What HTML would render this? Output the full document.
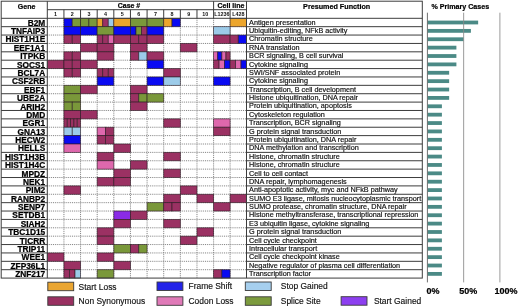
<!DOCTYPE html><html><head><meta charset="utf-8"><style>html,body{margin:0;padding:0;background:#fff;}body{width:520px;height:307px;overflow:hidden;}svg{display:block;will-change:transform;font-family:"Liberation Sans",sans-serif;}</style></head><body>
<svg width="520" height="307" viewBox="0 0 520 307">
<rect width="520" height="307" fill="#fff"/>
<line x1="47.30" y1="26.68" x2="246.50" y2="26.68" stroke="#858585" stroke-width="1" stroke-dasharray="1 0.9" fill="none"/>
<line x1="47.30" y1="35.06" x2="246.50" y2="35.06" stroke="#858585" stroke-width="1" stroke-dasharray="1 0.9" fill="none"/>
<line x1="47.30" y1="43.44" x2="246.50" y2="43.44" stroke="#858585" stroke-width="1" stroke-dasharray="1 0.9" fill="none"/>
<line x1="47.30" y1="51.82" x2="246.50" y2="51.82" stroke="#858585" stroke-width="1" stroke-dasharray="1 0.9" fill="none"/>
<line x1="47.30" y1="60.20" x2="246.50" y2="60.20" stroke="#858585" stroke-width="1" stroke-dasharray="1 0.9" fill="none"/>
<line x1="47.30" y1="68.58" x2="246.50" y2="68.58" stroke="#858585" stroke-width="1" stroke-dasharray="1 0.9" fill="none"/>
<line x1="47.30" y1="76.96" x2="246.50" y2="76.96" stroke="#858585" stroke-width="1" stroke-dasharray="1 0.9" fill="none"/>
<line x1="47.30" y1="85.34" x2="246.50" y2="85.34" stroke="#858585" stroke-width="1" stroke-dasharray="1 0.9" fill="none"/>
<line x1="47.30" y1="93.72" x2="246.50" y2="93.72" stroke="#858585" stroke-width="1" stroke-dasharray="1 0.9" fill="none"/>
<line x1="47.30" y1="102.10" x2="246.50" y2="102.10" stroke="#858585" stroke-width="1" stroke-dasharray="1 0.9" fill="none"/>
<line x1="47.30" y1="110.48" x2="246.50" y2="110.48" stroke="#858585" stroke-width="1" stroke-dasharray="1 0.9" fill="none"/>
<line x1="47.30" y1="118.86" x2="246.50" y2="118.86" stroke="#858585" stroke-width="1" stroke-dasharray="1 0.9" fill="none"/>
<line x1="47.30" y1="127.24" x2="246.50" y2="127.24" stroke="#858585" stroke-width="1" stroke-dasharray="1 0.9" fill="none"/>
<line x1="47.30" y1="135.62" x2="246.50" y2="135.62" stroke="#858585" stroke-width="1" stroke-dasharray="1 0.9" fill="none"/>
<line x1="47.30" y1="144.00" x2="246.50" y2="144.00" stroke="#858585" stroke-width="1" stroke-dasharray="1 0.9" fill="none"/>
<line x1="47.30" y1="152.38" x2="246.50" y2="152.38" stroke="#858585" stroke-width="1" stroke-dasharray="1 0.9" fill="none"/>
<line x1="47.30" y1="160.76" x2="246.50" y2="160.76" stroke="#858585" stroke-width="1" stroke-dasharray="1 0.9" fill="none"/>
<line x1="47.30" y1="169.14" x2="246.50" y2="169.14" stroke="#858585" stroke-width="1" stroke-dasharray="1 0.9" fill="none"/>
<line x1="47.30" y1="177.52" x2="246.50" y2="177.52" stroke="#858585" stroke-width="1" stroke-dasharray="1 0.9" fill="none"/>
<line x1="47.30" y1="185.90" x2="246.50" y2="185.90" stroke="#858585" stroke-width="1" stroke-dasharray="1 0.9" fill="none"/>
<line x1="47.30" y1="194.28" x2="246.50" y2="194.28" stroke="#858585" stroke-width="1" stroke-dasharray="1 0.9" fill="none"/>
<line x1="47.30" y1="202.66" x2="246.50" y2="202.66" stroke="#858585" stroke-width="1" stroke-dasharray="1 0.9" fill="none"/>
<line x1="47.30" y1="211.04" x2="246.50" y2="211.04" stroke="#858585" stroke-width="1" stroke-dasharray="1 0.9" fill="none"/>
<line x1="47.30" y1="219.42" x2="246.50" y2="219.42" stroke="#858585" stroke-width="1" stroke-dasharray="1 0.9" fill="none"/>
<line x1="47.30" y1="227.80" x2="246.50" y2="227.80" stroke="#858585" stroke-width="1" stroke-dasharray="1 0.9" fill="none"/>
<line x1="47.30" y1="236.18" x2="246.50" y2="236.18" stroke="#858585" stroke-width="1" stroke-dasharray="1 0.9" fill="none"/>
<line x1="47.30" y1="244.56" x2="246.50" y2="244.56" stroke="#858585" stroke-width="1" stroke-dasharray="1 0.9" fill="none"/>
<line x1="47.30" y1="252.94" x2="246.50" y2="252.94" stroke="#858585" stroke-width="1" stroke-dasharray="1 0.9" fill="none"/>
<line x1="47.30" y1="261.32" x2="246.50" y2="261.32" stroke="#858585" stroke-width="1" stroke-dasharray="1 0.9" fill="none"/>
<line x1="47.30" y1="269.70" x2="246.50" y2="269.70" stroke="#858585" stroke-width="1" stroke-dasharray="1 0.9" fill="none"/>
<line x1="63.93" y1="18.30" x2="63.93" y2="278.08" stroke="#858585" stroke-width="1" stroke-dasharray="1 0.9" fill="none"/>
<line x1="80.56" y1="18.30" x2="80.56" y2="278.08" stroke="#858585" stroke-width="1" stroke-dasharray="1 0.9" fill="none"/>
<line x1="97.19" y1="18.30" x2="97.19" y2="278.08" stroke="#858585" stroke-width="1" stroke-dasharray="1 0.9" fill="none"/>
<line x1="113.82" y1="18.30" x2="113.82" y2="278.08" stroke="#858585" stroke-width="1" stroke-dasharray="1 0.9" fill="none"/>
<line x1="130.45" y1="18.30" x2="130.45" y2="278.08" stroke="#858585" stroke-width="1" stroke-dasharray="1 0.9" fill="none"/>
<line x1="147.08" y1="18.30" x2="147.08" y2="278.08" stroke="#858585" stroke-width="1" stroke-dasharray="1 0.9" fill="none"/>
<line x1="163.71" y1="18.30" x2="163.71" y2="278.08" stroke="#858585" stroke-width="1" stroke-dasharray="1 0.9" fill="none"/>
<line x1="180.34" y1="18.30" x2="180.34" y2="278.08" stroke="#858585" stroke-width="1" stroke-dasharray="1 0.9" fill="none"/>
<line x1="196.97" y1="18.30" x2="196.97" y2="278.08" stroke="#858585" stroke-width="1" stroke-dasharray="1 0.9" fill="none"/>
<line x1="213.60" y1="18.30" x2="213.60" y2="278.08" stroke="#858585" stroke-width="1" stroke-dasharray="1 0.9" fill="none"/>
<line x1="230.10" y1="18.30" x2="230.10" y2="278.08" stroke="#858585" stroke-width="1" stroke-dasharray="1 0.9" fill="none"/>
<rect x="63.93" y="18.30" width="8.32" height="8.38" fill="#0a0af2" stroke="#2a1a22" stroke-opacity="0.75" stroke-width="0.8"/>
<rect x="72.25" y="18.30" width="8.32" height="8.38" fill="#7a983a" stroke="#2a1a22" stroke-opacity="0.75" stroke-width="0.8"/>
<rect x="80.56" y="18.30" width="8.31" height="8.38" fill="#7a983a" stroke="#2a1a22" stroke-opacity="0.75" stroke-width="0.8"/>
<rect x="88.88" y="18.30" width="8.31" height="8.38" fill="#7a983a" stroke="#2a1a22" stroke-opacity="0.75" stroke-width="0.8"/>
<rect x="97.19" y="18.30" width="5.54" height="8.38" fill="#eca52c" stroke="#2a1a22" stroke-opacity="0.75" stroke-width="0.8"/>
<rect x="102.73" y="18.30" width="5.54" height="8.38" fill="#9b3163" stroke="#2a1a22" stroke-opacity="0.75" stroke-width="0.8"/>
<rect x="108.28" y="18.30" width="5.54" height="8.38" fill="#9ccbe9" stroke="#2a1a22" stroke-opacity="0.75" stroke-width="0.8"/>
<rect x="113.82" y="18.30" width="16.63" height="8.38" fill="#eca52c" stroke="#2a1a22" stroke-opacity="0.75" stroke-width="0.8"/>
<rect x="130.45" y="18.30" width="16.63" height="8.38" fill="#7a983a" stroke="#2a1a22" stroke-opacity="0.75" stroke-width="0.8"/>
<rect x="147.08" y="18.30" width="16.63" height="8.38" fill="#7a983a" stroke="#2a1a22" stroke-opacity="0.75" stroke-width="0.8"/>
<rect x="163.71" y="18.30" width="8.31" height="8.38" fill="#eca52c" stroke="#2a1a22" stroke-opacity="0.75" stroke-width="0.8"/>
<rect x="172.02" y="18.30" width="8.31" height="8.38" fill="#0a0af2" stroke="#2a1a22" stroke-opacity="0.75" stroke-width="0.8"/>
<rect x="230.10" y="18.30" width="16.40" height="8.38" fill="#eca52c" stroke="#2a1a22" stroke-opacity="0.75" stroke-width="0.8"/>
<rect x="63.93" y="26.68" width="16.63" height="8.38" fill="#0a0af2" stroke="#2a1a22" stroke-opacity="0.75" stroke-width="0.8"/>
<rect x="80.56" y="26.68" width="16.63" height="8.38" fill="#0a0af2" stroke="#2a1a22" stroke-opacity="0.75" stroke-width="0.8"/>
<rect x="97.19" y="26.68" width="16.63" height="8.38" fill="#7a983a" stroke="#2a1a22" stroke-opacity="0.75" stroke-width="0.8"/>
<rect x="113.82" y="26.68" width="16.63" height="8.38" fill="#0a0af2" stroke="#2a1a22" stroke-opacity="0.75" stroke-width="0.8"/>
<rect x="130.45" y="26.68" width="5.54" height="8.38" fill="#0a0af2" stroke="#2a1a22" stroke-opacity="0.75" stroke-width="0.8"/>
<rect x="135.99" y="26.68" width="5.54" height="8.38" fill="#7a983a" stroke="#2a1a22" stroke-opacity="0.75" stroke-width="0.8"/>
<rect x="141.54" y="26.68" width="5.54" height="8.38" fill="#9b3163" stroke="#2a1a22" stroke-opacity="0.75" stroke-width="0.8"/>
<rect x="147.08" y="26.68" width="16.63" height="8.38" fill="#0a0af2" stroke="#2a1a22" stroke-opacity="0.75" stroke-width="0.8"/>
<rect x="213.60" y="26.68" width="16.50" height="8.38" fill="#9ccbe9" stroke="#2a1a22" stroke-opacity="0.75" stroke-width="0.8"/>
<rect x="63.93" y="35.06" width="8.32" height="8.38" fill="#9b3163" stroke="#2a1a22" stroke-opacity="0.75" stroke-width="0.8"/>
<rect x="72.25" y="35.06" width="8.32" height="8.38" fill="#9b3163" stroke="#2a1a22" stroke-opacity="0.75" stroke-width="0.8"/>
<rect x="97.19" y="35.06" width="5.54" height="8.38" fill="#9b3163" stroke="#2a1a22" stroke-opacity="0.75" stroke-width="0.8"/>
<rect x="102.73" y="35.06" width="5.54" height="8.38" fill="#9b3163" stroke="#2a1a22" stroke-opacity="0.75" stroke-width="0.8"/>
<rect x="108.28" y="35.06" width="5.54" height="8.38" fill="#de68ad" stroke="#2a1a22" stroke-opacity="0.75" stroke-width="0.8"/>
<rect x="113.82" y="35.06" width="16.63" height="8.38" fill="#9b3163" stroke="#2a1a22" stroke-opacity="0.75" stroke-width="0.8"/>
<rect x="130.45" y="35.06" width="8.31" height="8.38" fill="#9b3163" stroke="#2a1a22" stroke-opacity="0.75" stroke-width="0.8"/>
<rect x="138.76" y="35.06" width="8.31" height="8.38" fill="#9b3163" stroke="#2a1a22" stroke-opacity="0.75" stroke-width="0.8"/>
<rect x="147.08" y="35.06" width="16.63" height="8.38" fill="#9b3163" stroke="#2a1a22" stroke-opacity="0.75" stroke-width="0.8"/>
<rect x="213.60" y="35.06" width="16.50" height="8.38" fill="#9b3163" stroke="#2a1a22" stroke-opacity="0.75" stroke-width="0.8"/>
<rect x="230.10" y="35.06" width="8.20" height="8.38" fill="#9b3163" stroke="#2a1a22" stroke-opacity="0.75" stroke-width="0.8"/>
<rect x="238.30" y="35.06" width="8.20" height="8.38" fill="#0a0af2" stroke="#2a1a22" stroke-opacity="0.75" stroke-width="0.8"/>
<rect x="80.56" y="43.44" width="16.63" height="8.38" fill="#9b3163" stroke="#2a1a22" stroke-opacity="0.75" stroke-width="0.8"/>
<rect x="97.19" y="43.44" width="16.63" height="8.38" fill="#9b3163" stroke="#2a1a22" stroke-opacity="0.75" stroke-width="0.8"/>
<rect x="130.45" y="43.44" width="16.63" height="8.38" fill="#9b3163" stroke="#2a1a22" stroke-opacity="0.75" stroke-width="0.8"/>
<rect x="180.34" y="43.44" width="16.63" height="8.38" fill="#9b3163" stroke="#2a1a22" stroke-opacity="0.75" stroke-width="0.8"/>
<rect x="63.93" y="51.82" width="8.32" height="8.38" fill="#9b3163" stroke="#2a1a22" stroke-opacity="0.75" stroke-width="0.8"/>
<rect x="72.25" y="51.82" width="8.32" height="8.38" fill="#9b3163" stroke="#2a1a22" stroke-opacity="0.75" stroke-width="0.8"/>
<rect x="97.19" y="51.82" width="16.63" height="8.38" fill="#9b3163" stroke="#2a1a22" stroke-opacity="0.75" stroke-width="0.8"/>
<rect x="130.45" y="51.82" width="8.31" height="8.38" fill="#9b3163" stroke="#2a1a22" stroke-opacity="0.75" stroke-width="0.8"/>
<rect x="138.76" y="51.82" width="8.31" height="8.38" fill="#9ccbe9" stroke="#2a1a22" stroke-opacity="0.75" stroke-width="0.8"/>
<rect x="147.08" y="51.82" width="16.63" height="8.38" fill="#9b3163" stroke="#2a1a22" stroke-opacity="0.75" stroke-width="0.8"/>
<rect x="213.60" y="51.82" width="4.12" height="8.38" fill="#de68ad" stroke="#2a1a22" stroke-opacity="0.75" stroke-width="0.8"/>
<rect x="217.72" y="51.82" width="4.12" height="8.38" fill="#0a0af2" stroke="#2a1a22" stroke-opacity="0.75" stroke-width="0.8"/>
<rect x="221.85" y="51.82" width="4.12" height="8.38" fill="#de68ad" stroke="#2a1a22" stroke-opacity="0.75" stroke-width="0.8"/>
<rect x="225.97" y="51.82" width="4.12" height="8.38" fill="#9b3163" stroke="#2a1a22" stroke-opacity="0.75" stroke-width="0.8"/>
<rect x="47.30" y="60.20" width="16.63" height="8.38" fill="#9b3163" stroke="#2a1a22" stroke-opacity="0.75" stroke-width="0.8"/>
<rect x="63.93" y="60.20" width="8.32" height="8.38" fill="#9b3163" stroke="#2a1a22" stroke-opacity="0.75" stroke-width="0.8"/>
<rect x="72.25" y="60.20" width="8.32" height="8.38" fill="#9b3163" stroke="#2a1a22" stroke-opacity="0.75" stroke-width="0.8"/>
<rect x="80.56" y="60.20" width="16.63" height="8.38" fill="#9b3163" stroke="#2a1a22" stroke-opacity="0.75" stroke-width="0.8"/>
<rect x="147.08" y="60.20" width="16.63" height="8.38" fill="#0a0af2" stroke="#2a1a22" stroke-opacity="0.75" stroke-width="0.8"/>
<rect x="213.60" y="60.20" width="5.50" height="8.38" fill="#9b3163" stroke="#2a1a22" stroke-opacity="0.75" stroke-width="0.8"/>
<rect x="219.10" y="60.20" width="5.50" height="8.38" fill="#de68ad" stroke="#2a1a22" stroke-opacity="0.75" stroke-width="0.8"/>
<rect x="224.60" y="60.20" width="5.50" height="8.38" fill="#0a0af2" stroke="#2a1a22" stroke-opacity="0.75" stroke-width="0.8"/>
<rect x="230.10" y="60.20" width="5.47" height="8.38" fill="#9b3163" stroke="#2a1a22" stroke-opacity="0.75" stroke-width="0.8"/>
<rect x="235.57" y="60.20" width="5.47" height="8.38" fill="#de68ad" stroke="#2a1a22" stroke-opacity="0.75" stroke-width="0.8"/>
<rect x="241.03" y="60.20" width="5.47" height="8.38" fill="#0a0af2" stroke="#2a1a22" stroke-opacity="0.75" stroke-width="0.8"/>
<rect x="63.93" y="68.58" width="8.32" height="8.38" fill="#9b3163" stroke="#2a1a22" stroke-opacity="0.75" stroke-width="0.8"/>
<rect x="72.25" y="68.58" width="8.32" height="8.38" fill="#9b3163" stroke="#2a1a22" stroke-opacity="0.75" stroke-width="0.8"/>
<rect x="97.19" y="68.58" width="5.54" height="8.38" fill="#9b3163" stroke="#2a1a22" stroke-opacity="0.75" stroke-width="0.8"/>
<rect x="102.73" y="68.58" width="5.54" height="8.38" fill="#9b3163" stroke="#2a1a22" stroke-opacity="0.75" stroke-width="0.8"/>
<rect x="108.28" y="68.58" width="5.54" height="8.38" fill="#9b3163" stroke="#2a1a22" stroke-opacity="0.75" stroke-width="0.8"/>
<rect x="163.71" y="68.58" width="16.63" height="8.38" fill="#9b3163" stroke="#2a1a22" stroke-opacity="0.75" stroke-width="0.8"/>
<rect x="97.19" y="76.96" width="16.63" height="8.38" fill="#0a0af2" stroke="#2a1a22" stroke-opacity="0.75" stroke-width="0.8"/>
<rect x="147.08" y="76.96" width="16.63" height="8.38" fill="#0a0af2" stroke="#2a1a22" stroke-opacity="0.75" stroke-width="0.8"/>
<rect x="163.71" y="76.96" width="16.63" height="8.38" fill="#9ccbe9" stroke="#2a1a22" stroke-opacity="0.75" stroke-width="0.8"/>
<rect x="213.60" y="76.96" width="16.50" height="8.38" fill="#0a0af2" stroke="#2a1a22" stroke-opacity="0.75" stroke-width="0.8"/>
<rect x="63.93" y="85.34" width="16.63" height="8.38" fill="#7a983a" stroke="#2a1a22" stroke-opacity="0.75" stroke-width="0.8"/>
<rect x="80.56" y="85.34" width="16.63" height="8.38" fill="#9b3163" stroke="#2a1a22" stroke-opacity="0.75" stroke-width="0.8"/>
<rect x="130.45" y="85.34" width="16.63" height="8.38" fill="#9b3163" stroke="#2a1a22" stroke-opacity="0.75" stroke-width="0.8"/>
<rect x="63.93" y="93.72" width="16.63" height="8.38" fill="#7a983a" stroke="#2a1a22" stroke-opacity="0.75" stroke-width="0.8"/>
<rect x="130.45" y="93.72" width="8.31" height="8.38" fill="#9b3163" stroke="#2a1a22" stroke-opacity="0.75" stroke-width="0.8"/>
<rect x="138.76" y="93.72" width="8.31" height="8.38" fill="#7a983a" stroke="#2a1a22" stroke-opacity="0.75" stroke-width="0.8"/>
<rect x="147.08" y="93.72" width="16.63" height="8.38" fill="#7a983a" stroke="#2a1a22" stroke-opacity="0.75" stroke-width="0.8"/>
<rect x="63.93" y="102.10" width="8.32" height="8.38" fill="#7a983a" stroke="#2a1a22" stroke-opacity="0.75" stroke-width="0.8"/>
<rect x="72.25" y="102.10" width="8.32" height="8.38" fill="#7a983a" stroke="#2a1a22" stroke-opacity="0.75" stroke-width="0.8"/>
<rect x="130.45" y="102.10" width="16.63" height="8.38" fill="#9b3163" stroke="#2a1a22" stroke-opacity="0.75" stroke-width="0.8"/>
<rect x="63.93" y="110.48" width="16.63" height="8.38" fill="#9b3163" stroke="#2a1a22" stroke-opacity="0.75" stroke-width="0.8"/>
<rect x="80.56" y="110.48" width="16.63" height="8.38" fill="#9b3163" stroke="#2a1a22" stroke-opacity="0.75" stroke-width="0.8"/>
<rect x="63.93" y="118.86" width="3.33" height="8.38" fill="#9b3163" stroke="#2a1a22" stroke-opacity="0.75" stroke-width="0.8"/>
<rect x="67.26" y="118.86" width="3.33" height="8.38" fill="#9b3163" stroke="#2a1a22" stroke-opacity="0.75" stroke-width="0.8"/>
<rect x="70.58" y="118.86" width="3.33" height="8.38" fill="#9b3163" stroke="#2a1a22" stroke-opacity="0.75" stroke-width="0.8"/>
<rect x="73.91" y="118.86" width="3.33" height="8.38" fill="#9b3163" stroke="#2a1a22" stroke-opacity="0.75" stroke-width="0.8"/>
<rect x="77.23" y="118.86" width="3.33" height="8.38" fill="#9b3163" stroke="#2a1a22" stroke-opacity="0.75" stroke-width="0.8"/>
<rect x="163.71" y="118.86" width="16.63" height="8.38" fill="#9b3163" stroke="#2a1a22" stroke-opacity="0.75" stroke-width="0.8"/>
<rect x="213.60" y="118.86" width="16.50" height="8.38" fill="#de68ad" stroke="#2a1a22" stroke-opacity="0.75" stroke-width="0.8"/>
<rect x="63.93" y="127.24" width="8.32" height="8.38" fill="#9ccbe9" stroke="#2a1a22" stroke-opacity="0.75" stroke-width="0.8"/>
<rect x="72.25" y="127.24" width="8.32" height="8.38" fill="#9ccbe9" stroke="#2a1a22" stroke-opacity="0.75" stroke-width="0.8"/>
<rect x="97.19" y="127.24" width="8.31" height="8.38" fill="#de68ad" stroke="#2a1a22" stroke-opacity="0.75" stroke-width="0.8"/>
<rect x="105.50" y="127.24" width="8.31" height="8.38" fill="#9b3163" stroke="#2a1a22" stroke-opacity="0.75" stroke-width="0.8"/>
<rect x="213.60" y="127.24" width="16.50" height="8.38" fill="#9b3163" stroke="#2a1a22" stroke-opacity="0.75" stroke-width="0.8"/>
<rect x="63.93" y="135.62" width="16.63" height="8.38" fill="#0a0af2" stroke="#2a1a22" stroke-opacity="0.75" stroke-width="0.8"/>
<rect x="97.19" y="135.62" width="8.31" height="8.38" fill="#9b3163" stroke="#2a1a22" stroke-opacity="0.75" stroke-width="0.8"/>
<rect x="105.50" y="135.62" width="8.31" height="8.38" fill="#9b3163" stroke="#2a1a22" stroke-opacity="0.75" stroke-width="0.8"/>
<rect x="63.93" y="144.00" width="16.63" height="8.38" fill="#de68ad" stroke="#2a1a22" stroke-opacity="0.75" stroke-width="0.8"/>
<rect x="113.82" y="144.00" width="16.63" height="8.38" fill="#9b3163" stroke="#2a1a22" stroke-opacity="0.75" stroke-width="0.8"/>
<rect x="97.19" y="152.38" width="16.63" height="8.38" fill="#9b3163" stroke="#2a1a22" stroke-opacity="0.75" stroke-width="0.8"/>
<rect x="163.71" y="152.38" width="16.63" height="8.38" fill="#9b3163" stroke="#2a1a22" stroke-opacity="0.75" stroke-width="0.8"/>
<rect x="97.19" y="160.76" width="16.63" height="8.38" fill="#de68ad" stroke="#2a1a22" stroke-opacity="0.75" stroke-width="0.8"/>
<rect x="130.45" y="160.76" width="16.63" height="8.38" fill="#9b3163" stroke="#2a1a22" stroke-opacity="0.75" stroke-width="0.8"/>
<rect x="113.82" y="169.14" width="16.63" height="8.38" fill="#9b3163" stroke="#2a1a22" stroke-opacity="0.75" stroke-width="0.8"/>
<rect x="163.71" y="169.14" width="16.63" height="8.38" fill="#9b3163" stroke="#2a1a22" stroke-opacity="0.75" stroke-width="0.8"/>
<rect x="97.19" y="177.52" width="16.63" height="8.38" fill="#9b3163" stroke="#2a1a22" stroke-opacity="0.75" stroke-width="0.8"/>
<rect x="113.82" y="177.52" width="16.63" height="8.38" fill="#9b3163" stroke="#2a1a22" stroke-opacity="0.75" stroke-width="0.8"/>
<rect x="63.93" y="185.90" width="16.63" height="8.38" fill="#9b3163" stroke="#2a1a22" stroke-opacity="0.75" stroke-width="0.8"/>
<rect x="180.34" y="185.90" width="16.63" height="8.38" fill="#9b3163" stroke="#2a1a22" stroke-opacity="0.75" stroke-width="0.8"/>
<rect x="163.71" y="194.28" width="16.63" height="8.38" fill="#9b3163" stroke="#2a1a22" stroke-opacity="0.75" stroke-width="0.8"/>
<rect x="196.97" y="194.28" width="16.63" height="8.38" fill="#9b3163" stroke="#2a1a22" stroke-opacity="0.75" stroke-width="0.8"/>
<rect x="230.10" y="194.28" width="16.40" height="8.38" fill="#9b3163" stroke="#2a1a22" stroke-opacity="0.75" stroke-width="0.8"/>
<rect x="147.08" y="202.66" width="16.63" height="8.38" fill="#7a983a" stroke="#2a1a22" stroke-opacity="0.75" stroke-width="0.8"/>
<rect x="163.71" y="202.66" width="8.31" height="8.38" fill="#9b3163" stroke="#2a1a22" stroke-opacity="0.75" stroke-width="0.8"/>
<rect x="172.02" y="202.66" width="8.31" height="8.38" fill="#9b3163" stroke="#2a1a22" stroke-opacity="0.75" stroke-width="0.8"/>
<rect x="213.60" y="202.66" width="16.50" height="8.38" fill="#9b3163" stroke="#2a1a22" stroke-opacity="0.75" stroke-width="0.8"/>
<rect x="113.82" y="211.04" width="16.63" height="8.38" fill="#8a2be6" stroke="#2a1a22" stroke-opacity="0.75" stroke-width="0.8"/>
<rect x="130.45" y="211.04" width="16.63" height="8.38" fill="#9b3163" stroke="#2a1a22" stroke-opacity="0.75" stroke-width="0.8"/>
<rect x="113.82" y="219.42" width="16.63" height="8.38" fill="#9b3163" stroke="#2a1a22" stroke-opacity="0.75" stroke-width="0.8"/>
<rect x="163.71" y="219.42" width="16.63" height="8.38" fill="#9b3163" stroke="#2a1a22" stroke-opacity="0.75" stroke-width="0.8"/>
<rect x="97.19" y="227.80" width="16.63" height="8.38" fill="#9b3163" stroke="#2a1a22" stroke-opacity="0.75" stroke-width="0.8"/>
<rect x="196.97" y="227.80" width="16.63" height="8.38" fill="#9b3163" stroke="#2a1a22" stroke-opacity="0.75" stroke-width="0.8"/>
<rect x="97.19" y="236.18" width="16.63" height="8.38" fill="#9b3163" stroke="#2a1a22" stroke-opacity="0.75" stroke-width="0.8"/>
<rect x="180.34" y="236.18" width="16.63" height="8.38" fill="#9b3163" stroke="#2a1a22" stroke-opacity="0.75" stroke-width="0.8"/>
<rect x="113.82" y="244.56" width="16.63" height="8.38" fill="#7a983a" stroke="#2a1a22" stroke-opacity="0.75" stroke-width="0.8"/>
<rect x="130.45" y="244.56" width="8.31" height="8.38" fill="#9b3163" stroke="#2a1a22" stroke-opacity="0.75" stroke-width="0.8"/>
<rect x="138.76" y="244.56" width="8.31" height="8.38" fill="#7a983a" stroke="#2a1a22" stroke-opacity="0.75" stroke-width="0.8"/>
<rect x="47.30" y="252.94" width="16.63" height="8.38" fill="#9b3163" stroke="#2a1a22" stroke-opacity="0.75" stroke-width="0.8"/>
<rect x="97.19" y="252.94" width="16.63" height="8.38" fill="#9b3163" stroke="#2a1a22" stroke-opacity="0.75" stroke-width="0.8"/>
<rect x="63.93" y="261.32" width="16.63" height="8.38" fill="#9b3163" stroke="#2a1a22" stroke-opacity="0.75" stroke-width="0.8"/>
<rect x="113.82" y="261.32" width="16.63" height="8.38" fill="#9b3163" stroke="#2a1a22" stroke-opacity="0.75" stroke-width="0.8"/>
<rect x="63.93" y="269.70" width="5.54" height="8.38" fill="#9b3163" stroke="#2a1a22" stroke-opacity="0.75" stroke-width="0.8"/>
<rect x="69.47" y="269.70" width="5.54" height="8.38" fill="#9b3163" stroke="#2a1a22" stroke-opacity="0.75" stroke-width="0.8"/>
<rect x="75.02" y="269.70" width="5.54" height="8.38" fill="#9ccbe9" stroke="#2a1a22" stroke-opacity="0.75" stroke-width="0.8"/>
<rect x="97.19" y="269.70" width="16.63" height="8.38" fill="#7a983a" stroke="#2a1a22" stroke-opacity="0.75" stroke-width="0.8"/>
<rect x="213.60" y="269.70" width="8.25" height="8.38" fill="#9b3163" stroke="#2a1a22" stroke-opacity="0.75" stroke-width="0.8"/>
<rect x="221.85" y="269.70" width="8.25" height="8.38" fill="#0a0af2" stroke="#2a1a22" stroke-opacity="0.75" stroke-width="0.8"/>
<rect x="1.20" y="1.20" width="421.10" height="276.88" stroke="#3c3c3c" stroke-width="1" fill="none"/>
<line x1="47.30" y1="1.20" x2="47.30" y2="278.08" stroke="#3c3c3c" stroke-width="1" fill="none"/>
<line x1="246.50" y1="1.20" x2="246.50" y2="278.08" stroke="#3c3c3c" stroke-width="1" fill="none"/>
<line x1="1.20" y1="18.30" x2="422.30" y2="18.30" stroke="#3c3c3c" stroke-width="1" fill="none"/>
<line x1="47.30" y1="9.70" x2="246.50" y2="9.70" stroke="#3c3c3c" stroke-width="1" fill="none"/>
<line x1="63.93" y1="9.70" x2="63.93" y2="18.30" stroke="#3c3c3c" stroke-width="1" fill="none"/>
<line x1="80.56" y1="9.70" x2="80.56" y2="18.30" stroke="#3c3c3c" stroke-width="1" fill="none"/>
<line x1="97.19" y1="9.70" x2="97.19" y2="18.30" stroke="#3c3c3c" stroke-width="1" fill="none"/>
<line x1="113.82" y1="9.70" x2="113.82" y2="18.30" stroke="#3c3c3c" stroke-width="1" fill="none"/>
<line x1="130.45" y1="9.70" x2="130.45" y2="18.30" stroke="#3c3c3c" stroke-width="1" fill="none"/>
<line x1="147.08" y1="9.70" x2="147.08" y2="18.30" stroke="#3c3c3c" stroke-width="1" fill="none"/>
<line x1="163.71" y1="9.70" x2="163.71" y2="18.30" stroke="#3c3c3c" stroke-width="1" fill="none"/>
<line x1="180.34" y1="9.70" x2="180.34" y2="18.30" stroke="#3c3c3c" stroke-width="1" fill="none"/>
<line x1="196.97" y1="9.70" x2="196.97" y2="18.30" stroke="#3c3c3c" stroke-width="1" fill="none"/>
<line x1="213.60" y1="1.20" x2="213.60" y2="18.30" stroke="#3c3c3c" stroke-width="1" fill="none"/>
<line x1="230.10" y1="9.70" x2="230.10" y2="18.30" stroke="#3c3c3c" stroke-width="1" fill="none"/>
<line x1="1.20" y1="26.68" x2="47.30" y2="26.68" stroke="#3c3c3c" stroke-width="1" fill="none"/>
<line x1="246.50" y1="26.68" x2="422.30" y2="26.68" stroke="#3c3c3c" stroke-width="1" fill="none"/>
<line x1="1.20" y1="35.06" x2="47.30" y2="35.06" stroke="#3c3c3c" stroke-width="1" fill="none"/>
<line x1="246.50" y1="35.06" x2="422.30" y2="35.06" stroke="#3c3c3c" stroke-width="1" fill="none"/>
<line x1="1.20" y1="43.44" x2="47.30" y2="43.44" stroke="#3c3c3c" stroke-width="1" fill="none"/>
<line x1="246.50" y1="43.44" x2="422.30" y2="43.44" stroke="#3c3c3c" stroke-width="1" fill="none"/>
<line x1="1.20" y1="51.82" x2="47.30" y2="51.82" stroke="#3c3c3c" stroke-width="1" fill="none"/>
<line x1="246.50" y1="51.82" x2="422.30" y2="51.82" stroke="#3c3c3c" stroke-width="1" fill="none"/>
<line x1="1.20" y1="60.20" x2="47.30" y2="60.20" stroke="#3c3c3c" stroke-width="1" fill="none"/>
<line x1="246.50" y1="60.20" x2="422.30" y2="60.20" stroke="#3c3c3c" stroke-width="1" fill="none"/>
<line x1="1.20" y1="68.58" x2="47.30" y2="68.58" stroke="#3c3c3c" stroke-width="1" fill="none"/>
<line x1="246.50" y1="68.58" x2="422.30" y2="68.58" stroke="#3c3c3c" stroke-width="1" fill="none"/>
<line x1="1.20" y1="76.96" x2="47.30" y2="76.96" stroke="#3c3c3c" stroke-width="1" fill="none"/>
<line x1="246.50" y1="76.96" x2="422.30" y2="76.96" stroke="#3c3c3c" stroke-width="1" fill="none"/>
<line x1="1.20" y1="85.34" x2="47.30" y2="85.34" stroke="#3c3c3c" stroke-width="1" fill="none"/>
<line x1="246.50" y1="85.34" x2="422.30" y2="85.34" stroke="#3c3c3c" stroke-width="1" fill="none"/>
<line x1="1.20" y1="93.72" x2="47.30" y2="93.72" stroke="#3c3c3c" stroke-width="1" fill="none"/>
<line x1="246.50" y1="93.72" x2="422.30" y2="93.72" stroke="#3c3c3c" stroke-width="1" fill="none"/>
<line x1="1.20" y1="102.10" x2="47.30" y2="102.10" stroke="#3c3c3c" stroke-width="1" fill="none"/>
<line x1="246.50" y1="102.10" x2="422.30" y2="102.10" stroke="#3c3c3c" stroke-width="1" fill="none"/>
<line x1="1.20" y1="110.48" x2="47.30" y2="110.48" stroke="#3c3c3c" stroke-width="1" fill="none"/>
<line x1="246.50" y1="110.48" x2="422.30" y2="110.48" stroke="#3c3c3c" stroke-width="1" fill="none"/>
<line x1="1.20" y1="118.86" x2="47.30" y2="118.86" stroke="#3c3c3c" stroke-width="1" fill="none"/>
<line x1="246.50" y1="118.86" x2="422.30" y2="118.86" stroke="#3c3c3c" stroke-width="1" fill="none"/>
<line x1="1.20" y1="127.24" x2="47.30" y2="127.24" stroke="#3c3c3c" stroke-width="1" fill="none"/>
<line x1="246.50" y1="127.24" x2="422.30" y2="127.24" stroke="#3c3c3c" stroke-width="1" fill="none"/>
<line x1="1.20" y1="135.62" x2="47.30" y2="135.62" stroke="#3c3c3c" stroke-width="1" fill="none"/>
<line x1="246.50" y1="135.62" x2="422.30" y2="135.62" stroke="#3c3c3c" stroke-width="1" fill="none"/>
<line x1="1.20" y1="144.00" x2="47.30" y2="144.00" stroke="#3c3c3c" stroke-width="1" fill="none"/>
<line x1="246.50" y1="144.00" x2="422.30" y2="144.00" stroke="#3c3c3c" stroke-width="1" fill="none"/>
<line x1="1.20" y1="152.38" x2="47.30" y2="152.38" stroke="#3c3c3c" stroke-width="1" fill="none"/>
<line x1="246.50" y1="152.38" x2="422.30" y2="152.38" stroke="#3c3c3c" stroke-width="1" fill="none"/>
<line x1="1.20" y1="160.76" x2="47.30" y2="160.76" stroke="#3c3c3c" stroke-width="1" fill="none"/>
<line x1="246.50" y1="160.76" x2="422.30" y2="160.76" stroke="#3c3c3c" stroke-width="1" fill="none"/>
<line x1="1.20" y1="169.14" x2="47.30" y2="169.14" stroke="#3c3c3c" stroke-width="1" fill="none"/>
<line x1="246.50" y1="169.14" x2="422.30" y2="169.14" stroke="#3c3c3c" stroke-width="1" fill="none"/>
<line x1="1.20" y1="177.52" x2="47.30" y2="177.52" stroke="#3c3c3c" stroke-width="1" fill="none"/>
<line x1="246.50" y1="177.52" x2="422.30" y2="177.52" stroke="#3c3c3c" stroke-width="1" fill="none"/>
<line x1="1.20" y1="185.90" x2="47.30" y2="185.90" stroke="#3c3c3c" stroke-width="1" fill="none"/>
<line x1="246.50" y1="185.90" x2="422.30" y2="185.90" stroke="#3c3c3c" stroke-width="1" fill="none"/>
<line x1="1.20" y1="194.28" x2="47.30" y2="194.28" stroke="#3c3c3c" stroke-width="1" fill="none"/>
<line x1="246.50" y1="194.28" x2="422.30" y2="194.28" stroke="#3c3c3c" stroke-width="1" fill="none"/>
<line x1="1.20" y1="202.66" x2="47.30" y2="202.66" stroke="#3c3c3c" stroke-width="1" fill="none"/>
<line x1="246.50" y1="202.66" x2="422.30" y2="202.66" stroke="#3c3c3c" stroke-width="1" fill="none"/>
<line x1="1.20" y1="211.04" x2="47.30" y2="211.04" stroke="#3c3c3c" stroke-width="1" fill="none"/>
<line x1="246.50" y1="211.04" x2="422.30" y2="211.04" stroke="#3c3c3c" stroke-width="1" fill="none"/>
<line x1="1.20" y1="219.42" x2="47.30" y2="219.42" stroke="#3c3c3c" stroke-width="1" fill="none"/>
<line x1="246.50" y1="219.42" x2="422.30" y2="219.42" stroke="#3c3c3c" stroke-width="1" fill="none"/>
<line x1="1.20" y1="227.80" x2="47.30" y2="227.80" stroke="#3c3c3c" stroke-width="1" fill="none"/>
<line x1="246.50" y1="227.80" x2="422.30" y2="227.80" stroke="#3c3c3c" stroke-width="1" fill="none"/>
<line x1="1.20" y1="236.18" x2="47.30" y2="236.18" stroke="#3c3c3c" stroke-width="1" fill="none"/>
<line x1="246.50" y1="236.18" x2="422.30" y2="236.18" stroke="#3c3c3c" stroke-width="1" fill="none"/>
<line x1="1.20" y1="244.56" x2="47.30" y2="244.56" stroke="#3c3c3c" stroke-width="1" fill="none"/>
<line x1="246.50" y1="244.56" x2="422.30" y2="244.56" stroke="#3c3c3c" stroke-width="1" fill="none"/>
<line x1="1.20" y1="252.94" x2="47.30" y2="252.94" stroke="#3c3c3c" stroke-width="1" fill="none"/>
<line x1="246.50" y1="252.94" x2="422.30" y2="252.94" stroke="#3c3c3c" stroke-width="1" fill="none"/>
<line x1="1.20" y1="261.32" x2="47.30" y2="261.32" stroke="#3c3c3c" stroke-width="1" fill="none"/>
<line x1="246.50" y1="261.32" x2="422.30" y2="261.32" stroke="#3c3c3c" stroke-width="1" fill="none"/>
<line x1="1.20" y1="269.70" x2="47.30" y2="269.70" stroke="#3c3c3c" stroke-width="1" fill="none"/>
<line x1="246.50" y1="269.70" x2="422.30" y2="269.70" stroke="#3c3c3c" stroke-width="1" fill="none"/>
<text x="17.8" y="8.5" font-size="7" font-weight="bold" fill="#000" stroke="#000" stroke-width="0.2">Gene</text>
<text x="117.7" y="7.7" font-size="7" font-weight="bold" fill="#000" stroke="#000" stroke-width="0.2">Case #</text>
<text x="217.5" y="7.7" font-size="7" font-weight="bold" fill="#000" stroke="#000" stroke-width="0.2">Cell line</text>
<text x="303.1" y="8.8" font-size="7.2" font-weight="bold" fill="#000" stroke="#000" stroke-width="0.2">Presumed Function</text>
<text x="55.61" y="15.6" font-size="5.4" font-weight="bold" fill="#111" text-anchor="middle">1</text>
<text x="72.25" y="15.6" font-size="5.4" font-weight="bold" fill="#111" text-anchor="middle">2</text>
<text x="88.88" y="15.6" font-size="5.4" font-weight="bold" fill="#111" text-anchor="middle">3</text>
<text x="105.50" y="15.6" font-size="5.4" font-weight="bold" fill="#111" text-anchor="middle">4</text>
<text x="122.13" y="15.6" font-size="5.4" font-weight="bold" fill="#111" text-anchor="middle">5</text>
<text x="138.76" y="15.6" font-size="5.4" font-weight="bold" fill="#111" text-anchor="middle">6</text>
<text x="155.39" y="15.6" font-size="5.4" font-weight="bold" fill="#111" text-anchor="middle">7</text>
<text x="172.02" y="15.6" font-size="5.4" font-weight="bold" fill="#111" text-anchor="middle">8</text>
<text x="188.65" y="15.6" font-size="5.4" font-weight="bold" fill="#111" text-anchor="middle">9</text>
<text x="205.28" y="15.6" font-size="5.4" font-weight="bold" fill="#111" text-anchor="middle">10</text>
<text x="221.85" y="15.6" font-size="5.4" font-weight="bold" fill="#111" text-anchor="middle">L1236</text>
<text x="238.30" y="15.6" font-size="5.4" font-weight="bold" fill="#111" text-anchor="middle">L428</text>
<text transform="translate(45.2 25.73) scale(0.98 1)" font-size="8.5" font-weight="bold" fill="#000" stroke="#000" stroke-width="0.25" text-anchor="end">B2M</text>
<text x="249.1" y="24.68" font-size="7.25" fill="#111" stroke="#111" stroke-width="0.18">Antigen presentation</text>
<text transform="translate(45.2 34.11) scale(0.98 1)" font-size="8.5" font-weight="bold" fill="#000" stroke="#000" stroke-width="0.25" text-anchor="end">TNFAIP3</text>
<text x="249.1" y="33.06" font-size="7.25" fill="#111" stroke="#111" stroke-width="0.18">Ubiquitin-editing, NFkB activity</text>
<text transform="translate(45.2 42.49) scale(0.98 1)" font-size="8.5" font-weight="bold" fill="#000" stroke="#000" stroke-width="0.25" text-anchor="end">HIST1H1E</text>
<text x="249.1" y="41.44" font-size="7.25" fill="#111" stroke="#111" stroke-width="0.18">Chromatin structure</text>
<text transform="translate(45.2 50.87) scale(0.98 1)" font-size="8.5" font-weight="bold" fill="#000" stroke="#000" stroke-width="0.25" text-anchor="end">EEF1A1</text>
<text x="249.1" y="49.82" font-size="7.25" fill="#111" stroke="#111" stroke-width="0.18">RNA translation</text>
<text transform="translate(45.2 59.25) scale(0.98 1)" font-size="8.5" font-weight="bold" fill="#000" stroke="#000" stroke-width="0.25" text-anchor="end">ITPKB</text>
<text x="249.1" y="58.20" font-size="7.25" fill="#111" stroke="#111" stroke-width="0.18">BCR signaling, B cell survival</text>
<text transform="translate(45.2 67.63) scale(0.98 1)" font-size="8.5" font-weight="bold" fill="#000" stroke="#000" stroke-width="0.25" text-anchor="end">SOCS1</text>
<text x="249.1" y="66.58" font-size="7.25" fill="#111" stroke="#111" stroke-width="0.18">Cytokine signaling</text>
<text transform="translate(45.2 76.01) scale(0.98 1)" font-size="8.5" font-weight="bold" fill="#000" stroke="#000" stroke-width="0.25" text-anchor="end">BCL7A</text>
<text x="249.1" y="74.96" font-size="7.25" fill="#111" stroke="#111" stroke-width="0.18">SWI/SNF associated protein</text>
<text transform="translate(45.2 84.39) scale(0.98 1)" font-size="8.5" font-weight="bold" fill="#000" stroke="#000" stroke-width="0.25" text-anchor="end">CSF2RB</text>
<text x="249.1" y="83.34" font-size="7.25" fill="#111" stroke="#111" stroke-width="0.18">Cytokine signaling</text>
<text transform="translate(45.2 92.77) scale(0.98 1)" font-size="8.5" font-weight="bold" fill="#000" stroke="#000" stroke-width="0.25" text-anchor="end">EBF1</text>
<text x="249.1" y="91.72" font-size="7.25" fill="#111" stroke="#111" stroke-width="0.18">Transcription, B cell development</text>
<text transform="translate(45.2 101.15) scale(0.98 1)" font-size="8.5" font-weight="bold" fill="#000" stroke="#000" stroke-width="0.25" text-anchor="end">UBE2A</text>
<text x="249.1" y="100.10" font-size="7.25" fill="#111" stroke="#111" stroke-width="0.18">Histone ubiquitination, DNA repair</text>
<text transform="translate(45.2 109.53) scale(0.98 1)" font-size="8.5" font-weight="bold" fill="#000" stroke="#000" stroke-width="0.25" text-anchor="end">ARIH2</text>
<text x="249.1" y="108.48" font-size="7.25" fill="#111" stroke="#111" stroke-width="0.18">Protein ubiquitination, apoptosis</text>
<text transform="translate(45.2 117.91) scale(0.98 1)" font-size="8.5" font-weight="bold" fill="#000" stroke="#000" stroke-width="0.25" text-anchor="end">DMD</text>
<text x="249.1" y="116.86" font-size="7.25" fill="#111" stroke="#111" stroke-width="0.18">Cytoskeleton regulation</text>
<text transform="translate(45.2 126.29) scale(0.98 1)" font-size="8.5" font-weight="bold" fill="#000" stroke="#000" stroke-width="0.25" text-anchor="end">EGR1</text>
<text x="249.1" y="125.24" font-size="7.25" fill="#111" stroke="#111" stroke-width="0.18">Transcription, BCR signaling</text>
<text transform="translate(45.2 134.67) scale(0.98 1)" font-size="8.5" font-weight="bold" fill="#000" stroke="#000" stroke-width="0.25" text-anchor="end">GNA13</text>
<text x="249.1" y="133.62" font-size="7.25" fill="#111" stroke="#111" stroke-width="0.18">G protein signal transduction</text>
<text transform="translate(45.2 143.05) scale(0.98 1)" font-size="8.5" font-weight="bold" fill="#000" stroke="#000" stroke-width="0.25" text-anchor="end">HECW2</text>
<text x="249.1" y="142.00" font-size="7.25" fill="#111" stroke="#111" stroke-width="0.18">Protein ubiquitination, DNA repair</text>
<text transform="translate(45.2 151.43) scale(0.98 1)" font-size="8.5" font-weight="bold" fill="#000" stroke="#000" stroke-width="0.25" text-anchor="end">HELLS</text>
<text x="249.1" y="150.38" font-size="7.25" fill="#111" stroke="#111" stroke-width="0.18">DNA methylation and transcription</text>
<text transform="translate(45.2 159.81) scale(0.98 1)" font-size="8.5" font-weight="bold" fill="#000" stroke="#000" stroke-width="0.25" text-anchor="end">HIST1H3B</text>
<text x="249.1" y="158.76" font-size="7.25" fill="#111" stroke="#111" stroke-width="0.18">Histone, chromatin structure</text>
<text transform="translate(45.2 168.19) scale(0.98 1)" font-size="8.5" font-weight="bold" fill="#000" stroke="#000" stroke-width="0.25" text-anchor="end">HIST1H4C</text>
<text x="249.1" y="167.14" font-size="7.25" fill="#111" stroke="#111" stroke-width="0.18">Histone, chromatin structure</text>
<text transform="translate(45.2 176.57) scale(0.98 1)" font-size="8.5" font-weight="bold" fill="#000" stroke="#000" stroke-width="0.25" text-anchor="end">MPDZ</text>
<text x="249.1" y="175.52" font-size="7.25" fill="#111" stroke="#111" stroke-width="0.18">Cell to cell contact</text>
<text transform="translate(45.2 184.95) scale(0.98 1)" font-size="8.5" font-weight="bold" fill="#000" stroke="#000" stroke-width="0.25" text-anchor="end">NEK1</text>
<text x="249.1" y="183.90" font-size="7.25" fill="#111" stroke="#111" stroke-width="0.18">DNA repair, lymphomagenesis</text>
<text transform="translate(45.2 193.33) scale(0.98 1)" font-size="8.5" font-weight="bold" fill="#000" stroke="#000" stroke-width="0.25" text-anchor="end">PIM2</text>
<text x="249.1" y="192.28" font-size="7.25" fill="#111" stroke="#111" stroke-width="0.18">Anti-apoptotic activity, myc and NFkB pathway</text>
<text transform="translate(45.2 201.71) scale(0.98 1)" font-size="8.5" font-weight="bold" fill="#000" stroke="#000" stroke-width="0.25" text-anchor="end">RANBP2</text>
<text x="249.1" y="200.66" font-size="7.25" fill="#111" stroke="#111" stroke-width="0.18">SUMO E3 ligase, mitosis nucleocytoplasmic transport</text>
<text transform="translate(45.2 210.09) scale(0.98 1)" font-size="8.5" font-weight="bold" fill="#000" stroke="#000" stroke-width="0.25" text-anchor="end">SENP7</text>
<text x="249.1" y="209.04" font-size="7.25" fill="#111" stroke="#111" stroke-width="0.18">SUMO protease, chromatin structure, DNA repair</text>
<text transform="translate(45.2 218.47) scale(0.98 1)" font-size="8.5" font-weight="bold" fill="#000" stroke="#000" stroke-width="0.25" text-anchor="end">SETDB1</text>
<text x="249.1" y="217.42" font-size="7.25" fill="#111" stroke="#111" stroke-width="0.18">Histone methyltransferase, transcriptional repression</text>
<text transform="translate(45.2 226.85) scale(0.98 1)" font-size="8.5" font-weight="bold" fill="#000" stroke="#000" stroke-width="0.25" text-anchor="end">SIAH2</text>
<text x="249.1" y="225.80" font-size="7.25" fill="#111" stroke="#111" stroke-width="0.18">E3 ubiquitin ligase, cytokine signaling</text>
<text transform="translate(45.2 235.23) scale(0.98 1)" font-size="8.5" font-weight="bold" fill="#000" stroke="#000" stroke-width="0.25" text-anchor="end">TBC1D15</text>
<text x="249.1" y="234.18" font-size="7.25" fill="#111" stroke="#111" stroke-width="0.18">G protein signal transduction</text>
<text transform="translate(45.2 243.61) scale(0.98 1)" font-size="8.5" font-weight="bold" fill="#000" stroke="#000" stroke-width="0.25" text-anchor="end">TICRR</text>
<text x="249.1" y="242.56" font-size="7.25" fill="#111" stroke="#111" stroke-width="0.18">Cell cycle checkpoint</text>
<text transform="translate(45.2 251.99) scale(0.98 1)" font-size="8.5" font-weight="bold" fill="#000" stroke="#000" stroke-width="0.25" text-anchor="end">TRIP11</text>
<text x="249.1" y="250.94" font-size="7.25" fill="#111" stroke="#111" stroke-width="0.18">Intracellular transport</text>
<text transform="translate(45.2 260.37) scale(0.98 1)" font-size="8.5" font-weight="bold" fill="#000" stroke="#000" stroke-width="0.25" text-anchor="end">WEE1</text>
<text x="249.1" y="259.32" font-size="7.25" fill="#111" stroke="#111" stroke-width="0.18">Cell cycle checkpoint kinase</text>
<text transform="translate(45.2 268.75) scale(0.98 1)" font-size="8.5" font-weight="bold" fill="#000" stroke="#000" stroke-width="0.25" text-anchor="end">ZFP36L1</text>
<text x="249.1" y="267.70" font-size="7.25" fill="#111" stroke="#111" stroke-width="0.18">Negative regulator of plasma cell differentiation</text>
<text transform="translate(45.2 277.13) scale(0.98 1)" font-size="8.5" font-weight="bold" fill="#000" stroke="#000" stroke-width="0.25" text-anchor="end">ZNF217</text>
<text x="249.1" y="276.08" font-size="7.25" fill="#111" stroke="#111" stroke-width="0.18">Transcription factor</text>
<text x="431.5" y="8.8" font-size="7.1" font-weight="bold" fill="#000" stroke="#000" stroke-width="0.2">% Primary Cases</text>
<rect x="427.40" y="20.59" width="50.75" height="3.8" fill="#4b8a86"/>
<rect x="427.40" y="28.97" width="43.50" height="3.8" fill="#4b8a86"/>
<rect x="427.40" y="37.35" width="36.25" height="3.8" fill="#4b8a86"/>
<rect x="427.40" y="45.73" width="29.00" height="3.8" fill="#4b8a86"/>
<rect x="427.40" y="54.11" width="29.00" height="3.8" fill="#4b8a86"/>
<rect x="427.40" y="62.49" width="29.00" height="3.8" fill="#4b8a86"/>
<rect x="427.40" y="70.87" width="21.75" height="3.8" fill="#4b8a86"/>
<rect x="427.40" y="79.25" width="21.75" height="3.8" fill="#4b8a86"/>
<rect x="427.40" y="87.63" width="21.75" height="3.8" fill="#4b8a86"/>
<rect x="427.40" y="96.01" width="21.75" height="3.8" fill="#4b8a86"/>
<rect x="427.40" y="104.39" width="14.50" height="3.8" fill="#4b8a86"/>
<rect x="427.40" y="112.77" width="14.50" height="3.8" fill="#4b8a86"/>
<rect x="427.40" y="121.15" width="14.50" height="3.8" fill="#4b8a86"/>
<rect x="427.40" y="129.53" width="14.50" height="3.8" fill="#4b8a86"/>
<rect x="427.40" y="137.91" width="14.50" height="3.8" fill="#4b8a86"/>
<rect x="427.40" y="146.29" width="14.50" height="3.8" fill="#4b8a86"/>
<rect x="427.40" y="154.67" width="14.50" height="3.8" fill="#4b8a86"/>
<rect x="427.40" y="163.05" width="14.50" height="3.8" fill="#4b8a86"/>
<rect x="427.40" y="171.43" width="14.50" height="3.8" fill="#4b8a86"/>
<rect x="427.40" y="179.81" width="14.50" height="3.8" fill="#4b8a86"/>
<rect x="427.40" y="188.19" width="14.50" height="3.8" fill="#4b8a86"/>
<rect x="427.40" y="196.57" width="14.50" height="3.8" fill="#4b8a86"/>
<rect x="427.40" y="204.95" width="14.50" height="3.8" fill="#4b8a86"/>
<rect x="427.40" y="213.33" width="14.50" height="3.8" fill="#4b8a86"/>
<rect x="427.40" y="221.71" width="14.50" height="3.8" fill="#4b8a86"/>
<rect x="427.40" y="230.09" width="14.50" height="3.8" fill="#4b8a86"/>
<rect x="427.40" y="238.47" width="14.50" height="3.8" fill="#4b8a86"/>
<rect x="427.40" y="246.85" width="14.50" height="3.8" fill="#4b8a86"/>
<rect x="427.40" y="255.23" width="14.50" height="3.8" fill="#4b8a86"/>
<rect x="427.40" y="263.61" width="14.50" height="3.8" fill="#4b8a86"/>
<rect x="427.40" y="271.99" width="14.50" height="3.8" fill="#4b8a86"/>
<line x1="427.40" y1="12.7" x2="427.40" y2="282.4" stroke="#6e6e6e" stroke-width="1"/>
<line x1="463.65" y1="12.7" x2="463.65" y2="282.4" stroke="#8a8a8a" stroke-opacity="0.85" stroke-width="1"/>
<line x1="499.90" y1="12.7" x2="499.90" y2="282.4" stroke="#8a8a8a" stroke-opacity="0.85" stroke-width="1"/>
<text x="426.5" y="294.3" font-size="9" font-weight="bold" fill="#000" stroke="#000" stroke-width="0.2">0%</text>
<text x="459.2" y="294.3" font-size="9" font-weight="bold" fill="#000" stroke="#000" stroke-width="0.2">50%</text>
<text x="494.4" y="294.3" font-size="9" font-weight="bold" fill="#000" stroke="#000" stroke-width="0.2">100%</text>
<rect x="47.80" y="282.20" width="25.9" height="8.5" fill="#eaa632" stroke="#3a3a3a" stroke-width="0.9"/>
<text x="78.60" y="289.60" font-size="8.45" fill="#111" stroke="#111" stroke-width="0.15">Start Loss</text>
<rect x="157.00" y="282.00" width="25.9" height="8.5" fill="#2323e8" stroke="#3a3a3a" stroke-width="0.9"/>
<text x="188.50" y="289.40" font-size="8.45" fill="#111" stroke="#111" stroke-width="0.15">Frame Shift</text>
<rect x="245.30" y="282.00" width="25.9" height="8.5" fill="#a6cfee" stroke="#3a3a3a" stroke-width="0.9"/>
<text x="280.80" y="289.40" font-size="8.45" fill="#111" stroke="#111" stroke-width="0.15">Stop Gained</text>
<rect x="47.80" y="296.80" width="25.9" height="8.5" fill="#993061" stroke="#3a3a3a" stroke-width="0.9"/>
<text x="78.60" y="304.20" font-size="8.45" fill="#111" stroke="#111" stroke-width="0.15">Non Synonymous</text>
<rect x="157.00" y="296.80" width="25.9" height="8.5" fill="#e07ab8" stroke="#3a3a3a" stroke-width="0.9"/>
<text x="188.50" y="304.20" font-size="8.45" fill="#111" stroke="#111" stroke-width="0.15">Codon Loss</text>
<rect x="245.30" y="296.80" width="25.9" height="8.5" fill="#7c9b3e" stroke="#3a3a3a" stroke-width="0.9"/>
<text x="280.80" y="304.20" font-size="8.45" fill="#111" stroke="#111" stroke-width="0.15">Splice Site</text>
<rect x="341.10" y="296.70" width="25.9" height="8.5" fill="#8d3ff0" stroke="#3a3a3a" stroke-width="0.9"/>
<text x="373.90" y="304.10" font-size="8.45" fill="#111" stroke="#111" stroke-width="0.15">Start Gained</text>
</svg></body></html>
